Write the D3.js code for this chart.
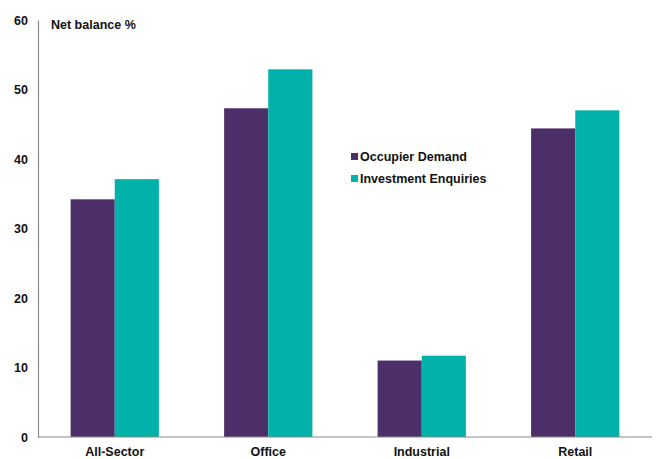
<!DOCTYPE html>
<html>
<head>
<meta charset="utf-8">
<script src="https://cdn.jsdelivr.net/npm/d3@7"></script>
<style>
  html, body { margin: 0; padding: 0; background: #fff; }
  svg { display: block; font-family: "Liberation Sans", Arial, sans-serif; }
</style>
</head>
<body>
<svg id="chart" width="656" height="459"></svg>
<script>
// Sector net balances, two survey series
const categories = ["All-Sector", "Office", "Industrial", "Retail"];
const seriesNames = ["Occupier Demand", "Investment Enquiries"];
const occupierDemand = [34.2, 47.3, 11.0, 44.4];
const investmentEnquiries = [37.1, 52.9, 11.7, 47.0];
const yTicks = [0, 10, 20, 30, 40, 50, 60];
const colors = ["#4C2E68", "#00B2AA"];

const svg = d3.select("#chart");
const margin = { left: 38, right: 4, top: 20, bottom: 22 };
const width = 656, height = 459;

const x = d3.scaleBand()
  .domain(categories)
  .range([margin.left, width - margin.right])
  .paddingInner(0.425)
  .paddingOuter(0.2125);

const xSub = d3.scaleBand()
  .domain(seriesNames)
  .range([0, x.bandwidth()]);

const y = d3.scaleLinear()
  .domain([0, 60])
  .range([height - margin.bottom, margin.top]);

const rows = categories.map((c, i) => ({
  cat: c,
  values: [occupierDemand[i], investmentEnquiries[i]]
}));

// Bars
const groups = svg.append("g").selectAll("g")
  .data(rows)
  .join("g")
  .attr("transform", d => `translate(${x(d.cat)},0)`);

groups.selectAll("rect")
  .data(d => d.values.map((v, j) => ({ v, j })))
  .join("rect")
  .attr("x", d => xSub(seriesNames[d.j]))
  .attr("width", xSub.bandwidth())
  .attr("y", d => y(d.v))
  .attr("height", d => y(0) - y(d.v))
  .attr("fill", d => colors[d.j]);

// Y axis
const yAxis = svg.append("g")
  .attr("transform", `translate(${margin.left},0)`)
  .call(d3.axisLeft(y).tickValues(yTicks).tickSize(0).tickPadding(10).tickFormat(d3.format("d")));
yAxis.select(".domain").attr("stroke", "#8c8c8c").attr("stroke-width", 1.2);
yAxis.selectAll("text")
  .attr("font-size", 12.5)
  .attr("font-weight", "bold")
  .attr("fill", "#111");

// X axis
const xAxis = svg.append("g")
  .attr("transform", `translate(0,${y(0)})`)
  .call(d3.axisBottom(x).tickSize(0).tickPadding(10));
xAxis.select(".domain")
  .attr("d", `M${margin.left},0H${width - margin.right}`)
  .attr("stroke", "#8c8c8c").attr("stroke-width", 1.2);
xAxis.selectAll("text")
  .attr("font-size", 12.5)
  .attr("font-weight", "bold")
  .attr("fill", "#111");

// Axis title
svg.append("text")
  .attr("x", 51)
  .attr("y", 29)
  .attr("font-size", 12.5)
  .attr("font-weight", "bold")
  .attr("fill", "#111")
  .text("Net balance %");

// Legend
const legend = svg.append("g").attr("transform", "translate(351,150)");
const items = legend.selectAll("g")
  .data(seriesNames)
  .join("g")
  .attr("transform", (d, i) => `translate(0,${i * 22})`);
items.append("rect")
  .attr("x", 0).attr("y", 3)
  .attr("width", 7).attr("height", 7)
  .attr("fill", (d, i) => colors[i]);
items.append("text")
  .attr("x", 9).attr("y", 11)
  .attr("font-size", 12.5)
  .attr("font-weight", "bold")
  .attr("fill", "#111")
  .text(d => d);
</script>
</body>
</html>
